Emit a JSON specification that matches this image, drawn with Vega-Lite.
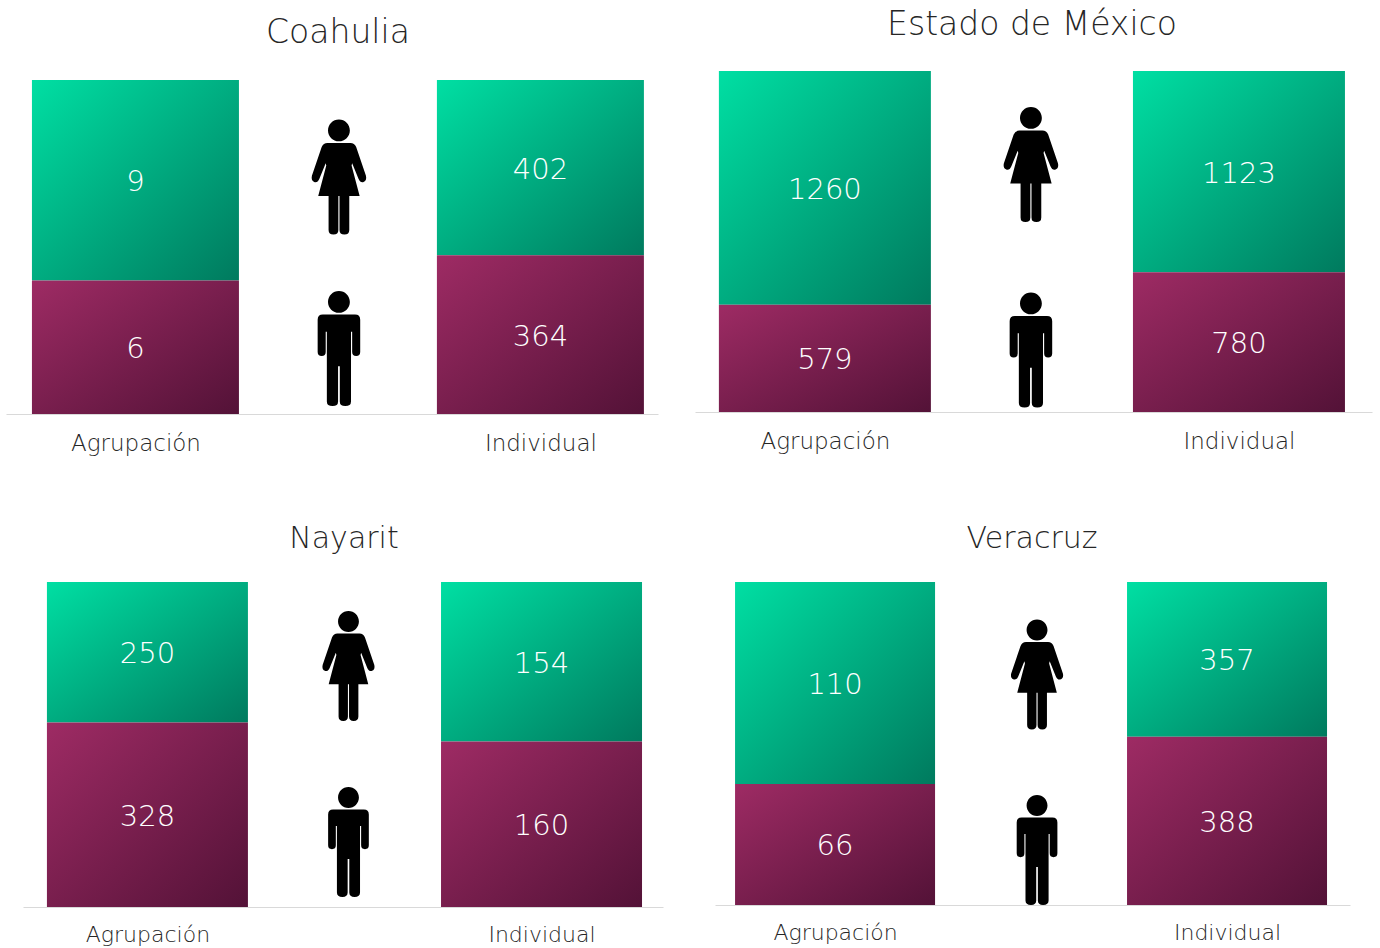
{"$schema":"https://vega.github.io/schema/vega-lite/v6.json","padding":0,"autosize":{"type":"pad"},"background":"white","columns":2,"spacing":0,"bounds":"flush","config":{"view":{"stroke":null},"title":{"font":"DejaVu Sans","fontWeight":200,"fontSize":33,"color":"#262626","baseline":"alphabetic","frame":"group","anchor":"middle"},"axis":{"labelFont":"DejaVu Sans","labelFontWeight":300,"labelFontSize":23,"labelColor":"#262626","domainColor":"#d9d9d9","domainWidth":1,"ticks":false,"grid":false,"title":null,"labelAngle":0,"labelPadding":18},"text":{"font":"DejaVu Sans","fontWeight":200,"fontSize":29,"color":"white","dy":2}},"datasets":{"iconos":[{"genero":"Mujeres","categoria":"centro"},{"genero":"Hombres","categoria":"centro"}]},"concat":[
{"width":690,"height":474,"title":{"text":"Coahulia","dx":-7,"offset":-50},"resolve":{"scale":{"y":"independent"}},
"layer":[
{"data":{"values":[{"categoria":"Agrupación","genero":"Mujeres","valor":9},{"categoria":"Agrupación","genero":"Hombres","valor":6},{"categoria":"Individual","genero":"Mujeres","valor":402},{"categoria":"Individual","genero":"Hombres","valor":364}]},"layer":[
{"mark":{"type":"bar","width":207},"encoding":{"x":{"field":"categoria","type":"nominal","scale":{"type":"point","domain":["Agrupación","centro","Individual"],"range":[6,658],"padding":0.61,"align":0.524},"axis":{"values":["Agrupación","Individual"],"offset":-60}},"y":{"field":"valor","type":"quantitative","stack":"normalize","scale":{"domain":[0,1],"nice":false,"range":[414,80]},"axis":null},"order":{"field":"genero","sort":"ascending"},"detail":{"field":"genero"},"color":{"condition":{"test":"datum.genero==='Mujeres'","value":{"gradient":"linear","x1":0,"y1":0,"x2":1,"y2":1,"stops":[{"offset":0,"color":"#00dfa3"},{"offset":1,"color":"#007a5e"}]}},"value":{"gradient":"linear","x1":0,"y1":0,"x2":1,"y2":1,"stops":[{"offset":0,"color":"#9e2b64"},{"offset":1,"color":"#531237"}]}}}},
{"mark":{"type":"text"},"encoding":{"x":{"field":"categoria","type":"nominal"},"y":{"field":"valor","type":"quantitative","stack":"normalize","bandPosition":0.5,"axis":null},"order":{"field":"genero","sort":"ascending"},"detail":{"field":"genero"},"text":{"field":"valor","type":"quantitative"}}}
]},
{"data":{"name":"iconos"},"mark":{"type":"point","filled":true,"color":"black","opacity":1,"size":13225,"xOffset":1},"encoding":{"x":{"field":"categoria","type":"nominal"},"y":{"field":"genero","type":"nominal","axis":null,"scale":{"type":"point","domain":["Mujeres","Hombres"],"range":[177,348.5],"padding":0}},"shape":{"field":"genero","type":"nominal","legend":null,"scale":{"domain":["Mujeres","Hombres"],"range":["M -.19 -.81 A .19 .19 0 1 1 .19 -.81 A .19 .19 0 1 1 -.19 -.81 Z M -.2 -.59 L .2 -.59 Q .27 -.59 .3 -.52 L .47 -.02 Q .49 .07 .42 .09 Q .37 .1 .34 .03 L .23 -.24 L .22 -.2 L .36 .33 L .18 .33 L .18 .92 Q .18 1 .095 1 Q .01 1 .01 .92 L .01 .33 L -.01 .33 L -.01 .92 Q -.01 1 -.095 1 Q -.18 1 -.18 .92 L -.18 .33 L -.36 .33 L -.22 -.2 L -.23 -.24 L -.34 .03 Q -.37 .1 -.42 .09 Q -.49 .07 -.47 -.02 L -.3 -.52 Q -.27 -.59 -.2 -.59 Z","M -.19 -.81 A .19 .19 0 1 1 .19 -.81 A .19 .19 0 1 1 -.19 -.81 Z M -.28 -.59 L .28 -.59 Q .37 -.59 .37 -.5 L .37 .06 Q .37 .13 .3 .13 Q .23 .13 .23 .06 L .23 -.29 L .21 -.29 L .21 .92 Q .21 1 .11 1 Q .015 1 .015 .92 L .015 .31 L -.015 .31 L -.015 .92 Q -.015 1 -.11 1 Q -.21 1 -.21 .92 L -.21 -.29 L -.23 -.29 L -.23 .06 Q -.23 .13 -.3 .13 Q -.37 .13 -.37 .06 L -.37 -.5 Q -.37 -.59 -.28 -.59 Z"]}}}}
]},
{"width":690,"height":474,"title":{"text":"Estado de México","dx":-3,"offset":-42},"resolve":{"scale":{"y":"independent"}},
"layer":[
{"data":{"values":[{"categoria":"Agrupación","genero":"Mujeres","valor":1260},{"categoria":"Agrupación","genero":"Hombres","valor":579},{"categoria":"Individual","genero":"Mujeres","valor":1123},{"categoria":"Individual","genero":"Hombres","valor":780}]},"layer":[
{"mark":{"type":"bar","width":212},"encoding":{"x":{"field":"categoria","type":"nominal","scale":{"type":"point","domain":["Agrupación","centro","Individual"],"range":[5,682],"padding":0.635,"align":0.494},"axis":{"values":["Agrupación","Individual"],"offset":-62}},"y":{"field":"valor","type":"quantitative","stack":"normalize","scale":{"domain":[0,1],"nice":false,"range":[412,71]},"axis":null},"order":{"field":"genero","sort":"ascending"},"detail":{"field":"genero"},"color":{"condition":{"test":"datum.genero==='Mujeres'","value":{"gradient":"linear","x1":0,"y1":0,"x2":1,"y2":1,"stops":[{"offset":0,"color":"#00dfa3"},{"offset":1,"color":"#007a5e"}]}},"value":{"gradient":"linear","x1":0,"y1":0,"x2":1,"y2":1,"stops":[{"offset":0,"color":"#9e2b64"},{"offset":1,"color":"#531237"}]}}}},
{"mark":{"type":"text"},"encoding":{"x":{"field":"categoria","type":"nominal"},"y":{"field":"valor","type":"quantitative","stack":"normalize","bandPosition":0.5,"axis":null},"order":{"field":"genero","sort":"ascending"},"detail":{"field":"genero"},"text":{"field":"valor","type":"quantitative"}}}
]},
{"data":{"name":"iconos"},"mark":{"type":"point","filled":true,"color":"black","opacity":1,"size":13225,"xOffset":-1},"encoding":{"x":{"field":"categoria","type":"nominal"},"y":{"field":"genero","type":"nominal","axis":null,"scale":{"type":"point","domain":["Mujeres","Hombres"],"range":[164.5,350],"padding":0}},"shape":{"field":"genero","type":"nominal","legend":null,"scale":{"domain":["Mujeres","Hombres"],"range":["M -.19 -.81 A .19 .19 0 1 1 .19 -.81 A .19 .19 0 1 1 -.19 -.81 Z M -.2 -.59 L .2 -.59 Q .27 -.59 .3 -.52 L .47 -.02 Q .49 .07 .42 .09 Q .37 .1 .34 .03 L .23 -.24 L .22 -.2 L .36 .33 L .18 .33 L .18 .92 Q .18 1 .095 1 Q .01 1 .01 .92 L .01 .33 L -.01 .33 L -.01 .92 Q -.01 1 -.095 1 Q -.18 1 -.18 .92 L -.18 .33 L -.36 .33 L -.22 -.2 L -.23 -.24 L -.34 .03 Q -.37 .1 -.42 .09 Q -.49 .07 -.47 -.02 L -.3 -.52 Q -.27 -.59 -.2 -.59 Z","M -.19 -.81 A .19 .19 0 1 1 .19 -.81 A .19 .19 0 1 1 -.19 -.81 Z M -.28 -.59 L .28 -.59 Q .37 -.59 .37 -.5 L .37 .06 Q .37 .13 .3 .13 Q .23 .13 .23 .06 L .23 -.29 L .21 -.29 L .21 .92 Q .21 1 .11 1 Q .015 1 .015 .92 L .015 .31 L -.015 .31 L -.015 .92 Q -.015 1 -.11 1 Q -.21 1 -.21 .92 L -.21 -.29 L -.23 -.29 L -.23 .06 Q -.23 .13 -.3 .13 Q -.37 .13 -.37 .06 L -.37 -.5 Q -.37 -.59 -.28 -.59 Z"]}}}}
]},
{"width":690,"height":474,"title":{"text":"Nayarit","dx":-1,"offset":-80,"fontSize":30},"resolve":{"scale":{"y":"independent"}},
"layer":[
{"data":{"values":[{"categoria":"Agrupación","genero":"Mujeres","valor":250},{"categoria":"Agrupación","genero":"Hombres","valor":328},{"categoria":"Individual","genero":"Mujeres","valor":154},{"categoria":"Individual","genero":"Hombres","valor":160}]},"layer":[
{"mark":{"type":"bar","width":201},"encoding":{"x":{"field":"categoria","type":"nominal","scale":{"type":"point","domain":["Agrupación","centro","Individual"],"range":[23,663],"padding":0.624,"align":0.506},"axis":{"values":["Agrupación","Individual"],"offset":-41,"labelPadding":17,"labelFontSize":22}},"y":{"field":"valor","type":"quantitative","stack":"normalize","scale":{"domain":[0,1],"nice":false,"range":[433,108]},"axis":null},"order":{"field":"genero","sort":"ascending"},"detail":{"field":"genero"},"color":{"condition":{"test":"datum.genero==='Mujeres'","value":{"gradient":"linear","x1":0,"y1":0,"x2":1,"y2":1,"stops":[{"offset":0,"color":"#00dfa3"},{"offset":1,"color":"#007a5e"}]}},"value":{"gradient":"linear","x1":0,"y1":0,"x2":1,"y2":1,"stops":[{"offset":0,"color":"#9e2b64"},{"offset":1,"color":"#531237"}]}}}},
{"mark":{"type":"text"},"encoding":{"x":{"field":"categoria","type":"nominal"},"y":{"field":"valor","type":"quantitative","stack":"normalize","bandPosition":0.5,"axis":null},"order":{"field":"genero","sort":"ascending"},"detail":{"field":"genero"},"text":{"field":"valor","type":"quantitative"}}}
]},
{"data":{"name":"iconos"},"mark":{"type":"point","filled":true,"color":"black","opacity":1,"size":12100,"xOffset":4},"encoding":{"x":{"field":"categoria","type":"nominal"},"y":{"field":"genero","type":"nominal","axis":null,"scale":{"type":"point","domain":["Mujeres","Hombres"],"range":[192,368],"padding":0}},"shape":{"field":"genero","type":"nominal","legend":null,"scale":{"domain":["Mujeres","Hombres"],"range":["M -.19 -.81 A .19 .19 0 1 1 .19 -.81 A .19 .19 0 1 1 -.19 -.81 Z M -.2 -.59 L .2 -.59 Q .27 -.59 .3 -.52 L .47 -.02 Q .49 .07 .42 .09 Q .37 .1 .34 .03 L .23 -.24 L .22 -.2 L .36 .33 L .18 .33 L .18 .92 Q .18 1 .095 1 Q .01 1 .01 .92 L .01 .33 L -.01 .33 L -.01 .92 Q -.01 1 -.095 1 Q -.18 1 -.18 .92 L -.18 .33 L -.36 .33 L -.22 -.2 L -.23 -.24 L -.34 .03 Q -.37 .1 -.42 .09 Q -.49 .07 -.47 -.02 L -.3 -.52 Q -.27 -.59 -.2 -.59 Z","M -.19 -.81 A .19 .19 0 1 1 .19 -.81 A .19 .19 0 1 1 -.19 -.81 Z M -.28 -.59 L .28 -.59 Q .37 -.59 .37 -.5 L .37 .06 Q .37 .13 .3 .13 Q .23 .13 .23 .06 L .23 -.29 L .21 -.29 L .21 .92 Q .21 1 .11 1 Q .015 1 .015 .92 L .015 .31 L -.015 .31 L -.015 .92 Q -.015 1 -.11 1 Q -.21 1 -.21 .92 L -.21 -.29 L -.23 -.29 L -.23 .06 Q -.23 .13 -.3 .13 Q -.37 .13 -.37 .06 L -.37 -.5 Q -.37 -.59 -.28 -.59 Z"]}}}}
]},
{"width":690,"height":474,"title":{"text":"Veracruz","dx":-3,"offset":-80,"fontSize":30},"resolve":{"scale":{"y":"independent"}},
"layer":[
{"data":{"values":[{"categoria":"Agrupación","genero":"Mujeres","valor":110},{"categoria":"Agrupación","genero":"Hombres","valor":66},{"categoria":"Individual","genero":"Mujeres","valor":357},{"categoria":"Individual","genero":"Hombres","valor":388}]},"layer":[
{"mark":{"type":"bar","width":200},"encoding":{"x":{"field":"categoria","type":"nominal","scale":{"type":"point","domain":["Agrupación","centro","Individual"],"range":[25,660],"padding":0.62,"align":0.494},"axis":{"values":["Agrupación","Individual"],"offset":-43,"labelPadding":17,"labelFontSize":22}},"y":{"field":"valor","type":"quantitative","stack":"normalize","scale":{"domain":[0,1],"nice":false,"range":[431,108]},"axis":null},"order":{"field":"genero","sort":"ascending"},"detail":{"field":"genero"},"color":{"condition":{"test":"datum.genero==='Mujeres'","value":{"gradient":"linear","x1":0,"y1":0,"x2":1,"y2":1,"stops":[{"offset":0,"color":"#00dfa3"},{"offset":1,"color":"#007a5e"}]}},"value":{"gradient":"linear","x1":0,"y1":0,"x2":1,"y2":1,"stops":[{"offset":0,"color":"#9e2b64"},{"offset":1,"color":"#531237"}]}}}},
{"mark":{"type":"text"},"encoding":{"x":{"field":"categoria","type":"nominal"},"y":{"field":"valor","type":"quantitative","stack":"normalize","bandPosition":0.5,"axis":null},"order":{"field":"genero","sort":"ascending"},"detail":{"field":"genero"},"text":{"field":"valor","type":"quantitative"}}}
]},
{"data":{"name":"iconos"},"mark":{"type":"point","filled":true,"color":"black","opacity":1,"size":12100,"xOffset":6},"encoding":{"x":{"field":"categoria","type":"nominal"},"y":{"field":"genero","type":"nominal","axis":null,"scale":{"type":"point","domain":["Mujeres","Hombres"],"range":[200.5,376],"padding":0}},"shape":{"field":"genero","type":"nominal","legend":null,"scale":{"domain":["Mujeres","Hombres"],"range":["M -.19 -.81 A .19 .19 0 1 1 .19 -.81 A .19 .19 0 1 1 -.19 -.81 Z M -.2 -.59 L .2 -.59 Q .27 -.59 .3 -.52 L .47 -.02 Q .49 .07 .42 .09 Q .37 .1 .34 .03 L .23 -.24 L .22 -.2 L .36 .33 L .18 .33 L .18 .92 Q .18 1 .095 1 Q .01 1 .01 .92 L .01 .33 L -.01 .33 L -.01 .92 Q -.01 1 -.095 1 Q -.18 1 -.18 .92 L -.18 .33 L -.36 .33 L -.22 -.2 L -.23 -.24 L -.34 .03 Q -.37 .1 -.42 .09 Q -.49 .07 -.47 -.02 L -.3 -.52 Q -.27 -.59 -.2 -.59 Z","M -.19 -.81 A .19 .19 0 1 1 .19 -.81 A .19 .19 0 1 1 -.19 -.81 Z M -.28 -.59 L .28 -.59 Q .37 -.59 .37 -.5 L .37 .06 Q .37 .13 .3 .13 Q .23 .13 .23 .06 L .23 -.29 L .21 -.29 L .21 .92 Q .21 1 .11 1 Q .015 1 .015 .92 L .015 .31 L -.015 .31 L -.015 .92 Q -.015 1 -.11 1 Q -.21 1 -.21 .92 L -.21 -.29 L -.23 -.29 L -.23 .06 Q -.23 .13 -.3 .13 Q -.37 .13 -.37 .06 L -.37 -.5 Q -.37 -.59 -.28 -.59 Z"]}}}}
]}
]}
